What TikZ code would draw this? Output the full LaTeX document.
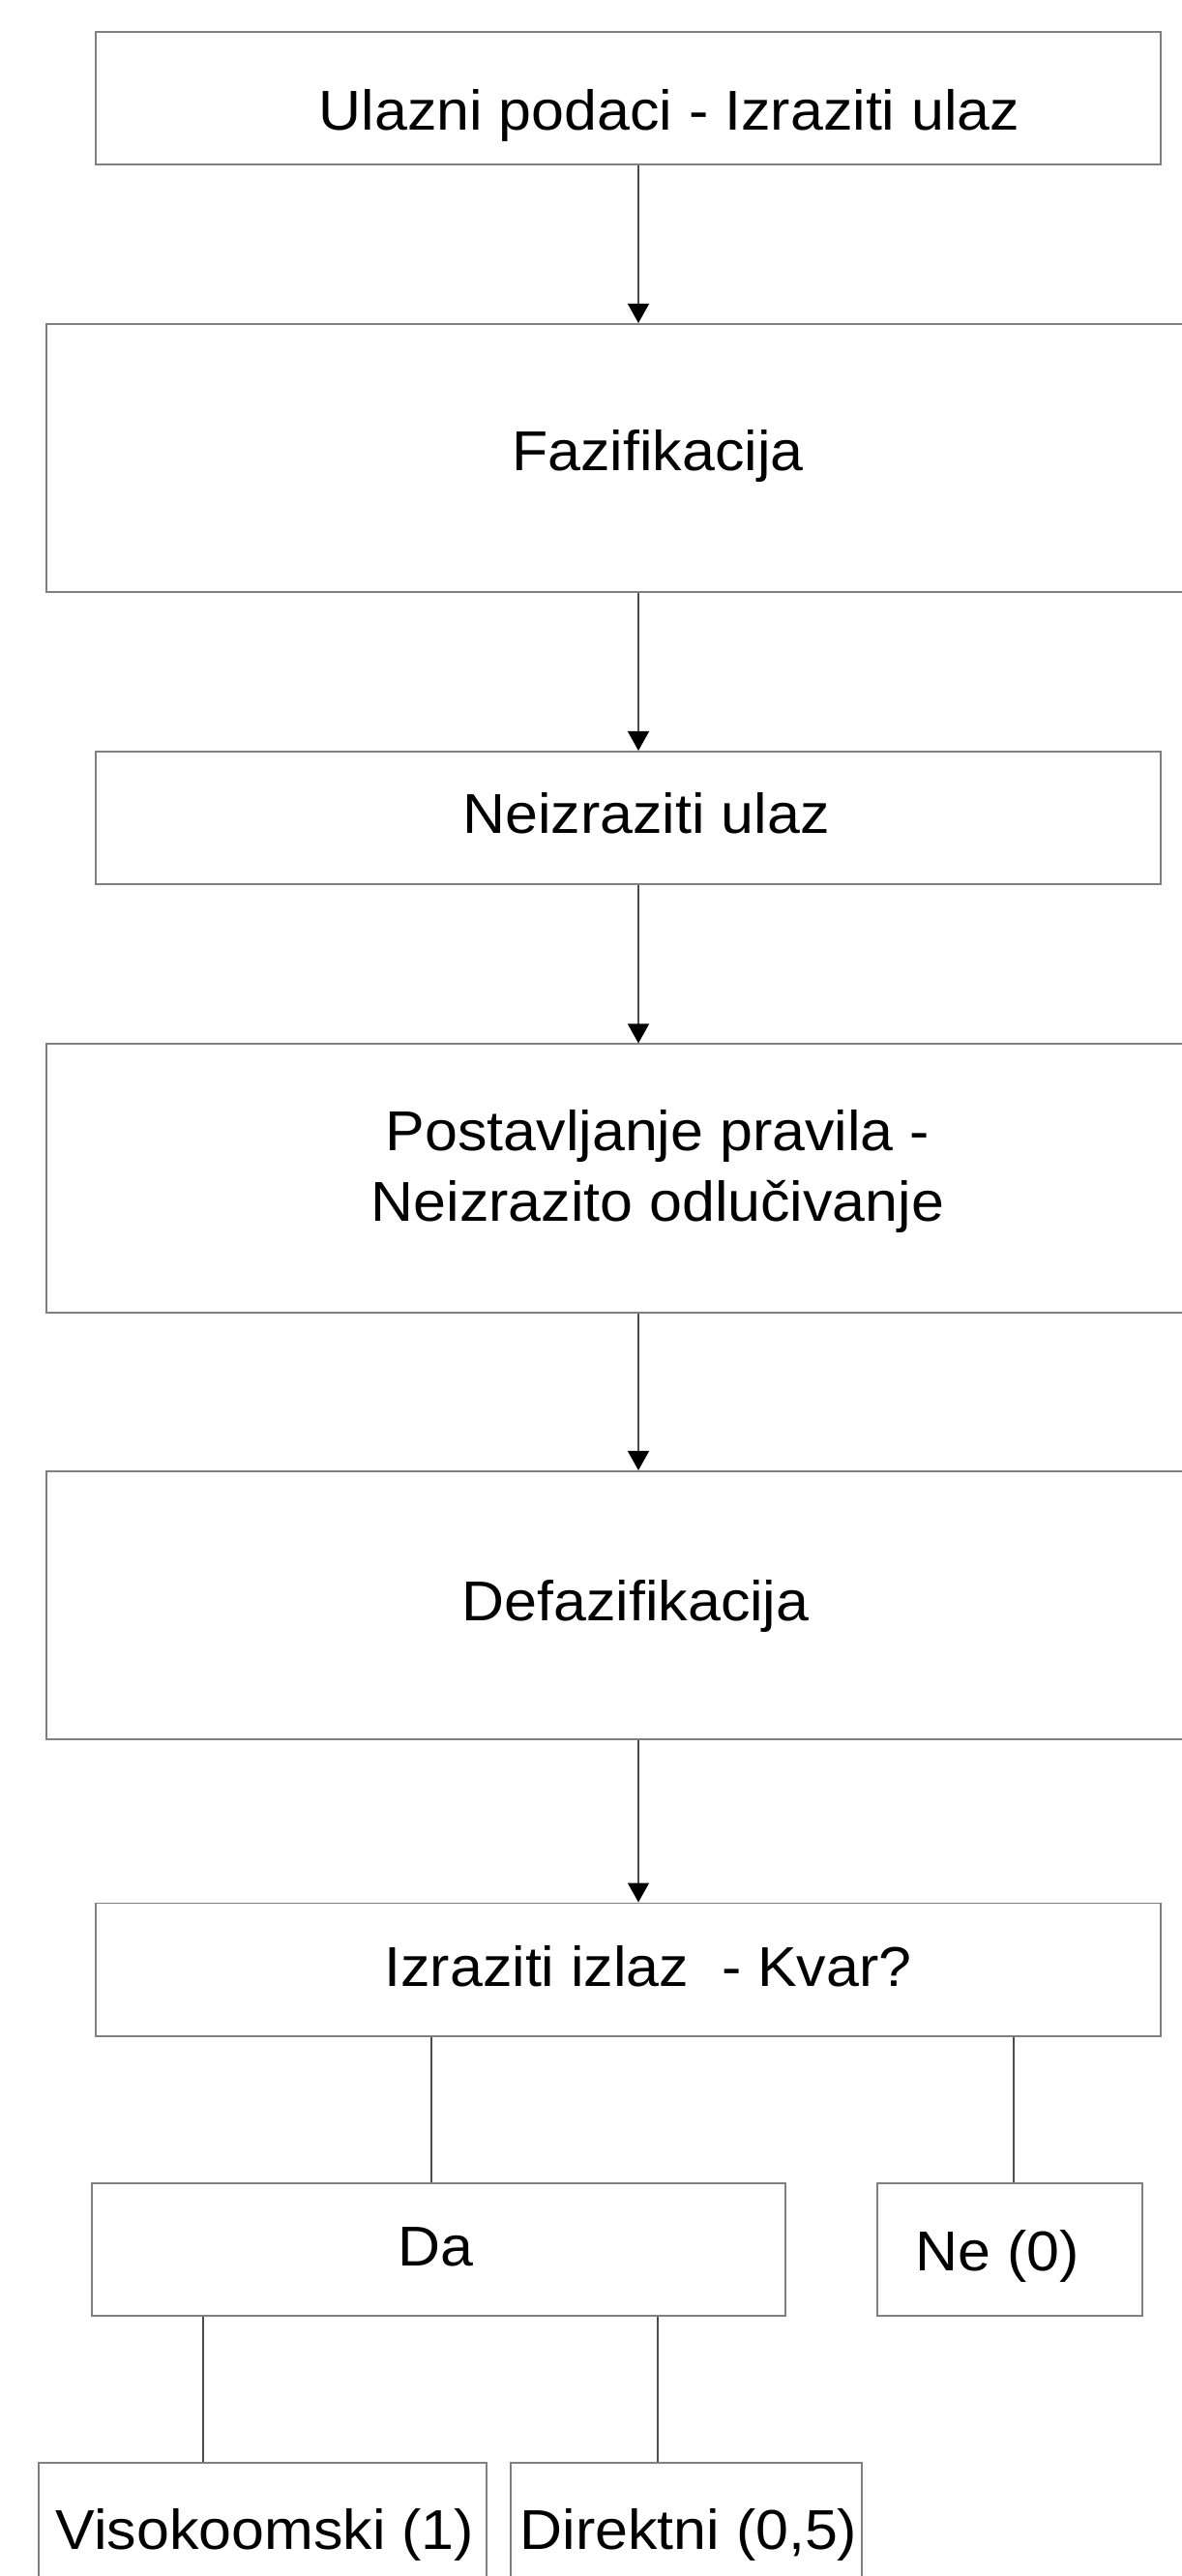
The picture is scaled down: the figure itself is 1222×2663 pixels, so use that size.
\documentclass[tikz,border=0pt]{standalone}
\usepackage{fontspec}
\setmainfont{Liberation Sans}[FakeStretch=1.05]
\usepackage{tikz}
\usetikzlibrary{arrows.meta}
\colorlet{BoxGray}{black!50}
\colorlet{LineGray}{black!70}
\tikzstyle{stageBlock}=[draw=BoxGray,line width=0.55pt,inner sep=0pt]
\tikzstyle{wideBlock}=[stageBlock,minimum width=12.64cm,minimum height=2.77cm]
\tikzstyle{narrowBlock}=[stageBlock,minimum width=11.01cm,minimum height=1.37cm]
\tikzstyle{invisNode}=[inner sep=0pt,anchor=base,font=\fontsize{16.5}{20.7}\selectfont]
\tikzstyle{stateTransition}=[-{Triangle[width=0.22cm,length=0.2cm,color=black]},draw=LineGray,line width=0.4pt]
\tikzstyle{branchLine}=[draw=LineGray,line width=0.4pt]

\begin{document}
\begin{tikzpicture}[x=0.01cm,y=-0.01cm]
        \useasboundingbox (0,0) rectangle (1222,2663);
        \clip (0,0) rectangle (1222,2663);

        % Stages
        \node[narrowBlock] (s0) at (649.5, 101.5) {};
        \node[wideBlock] (s1) at (680, 473.5) {};
        \node[narrowBlock] (s2) at (649.5, 845.5) {};
        \node[wideBlock] (s3) at (680, 1218) {};
        \node[wideBlock] (s4) at (680, 1659.5) {};
        \node[narrowBlock] (s5) at (649.5, 2036) {};

        % Stage texts
        \node[invisNode] (t0) at (692, 134) {Ulazni podaci - Izraziti ulaz};
        \node[invisNode] (t1) at (680, 486) {Fazifikacija};
        \node[invisNode] (t2) at (668, 861) {Neizraziti ulaz};
        \node[invisNode,align=center] (t3) at (680, 1262) {Postavljanje pravila -\\Neizrazito odlučivanje};
        \node[invisNode] (t4) at (657, 1675) {Defazifikacija};
        \node[invisNode] (t5) at (670, 2053) {Izraziti izlaz~ - Kvar?};

        % Stage -> Stage
        \coordinate (spine) at (660, 0);
        \draw[stateTransition] (s0.south -| spine) -- (s1.north -| spine);
        \draw[stateTransition] (s1.south -| spine) -- (s2.north -| spine);
        \draw[stateTransition] (s2.south -| spine) -- (s3.north -| spine);
        \draw[stateTransition] (s3.south -| spine) -- (s4.north -| spine);
        \draw[stateTransition] (s4.south -| spine) -- (s5.north -| spine);

        % Answers
        \node[stageBlock,minimum width=7.17cm,minimum height=1.37cm] (yes) at (453.5, 2325.5) {};
        \node[stageBlock,minimum width=2.74cm,minimum height=1.37cm] (no) at (1044, 2325.5) {};
        \node[invisNode] (yesText) at (450, 2342) {Da};
        \node[invisNode] (noText) at (1031, 2347) {Ne (0)};

        % Fault types
        \node[stageBlock,minimum width=4.63cm,minimum height=1.37cm] (high) at (271.5, 2614.5) {};
        \node[stageBlock,minimum width=3.63cm,minimum height=1.37cm] (direct) at (709.5, 2614.5) {};
        \node[invisNode] (highText) at (274, 2635) {Visokoomski (1)};
        \node[invisNode] (directText) at (712, 2635) {Direktni (0,5)};

        \coordinate (yesX) at (446, 0);
        \coordinate (noX) at (1048, 0);
        \coordinate (highX) at (210, 0);
        \coordinate (directX) at (680, 0);
        \draw[branchLine] (s5.south -| yesX) -- (yes.north -| yesX);
        \draw[branchLine] (s5.south -| noX) -- (no.north -| noX);
        \draw[branchLine] (yes.south -| highX) -- (high.north -| highX);
        \draw[branchLine] (yes.south -| directX) -- (direct.north -| directX);

\end{tikzpicture}
\end{document}
